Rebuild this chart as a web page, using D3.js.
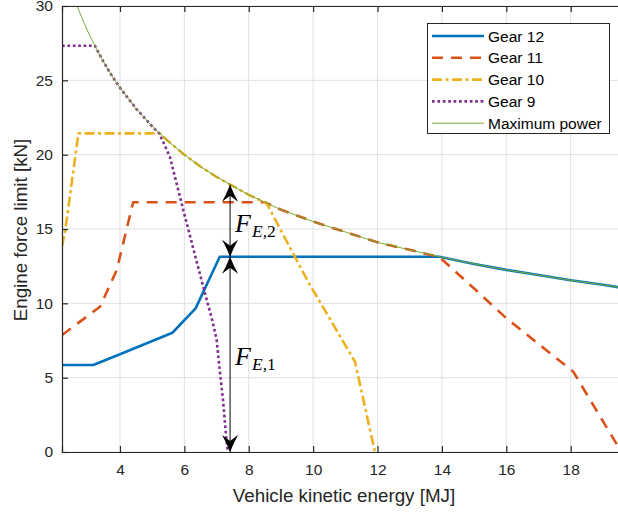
<!DOCTYPE html>
<html>
<head>
<meta charset="utf-8">
<script src="https://cdn.jsdelivr.net/npm/d3@7"></script>
<style>
  html, body { margin: 0; padding: 0; background: #fff; }
  svg { display: block; }
</style>
</head>
<body>
<svg id="chart" width="618" height="513"></svg>
<script>
// ---------- data ----------
const xTicks = [4, 6, 8, 10, 12, 14, 16, 18];
const yTicks = [0, 5, 10, 15, 20, 25, 30];

const gear12E = [2.2, 3.17, 4.0, 5.63, 6.35, 7.1, 13.92, 15, 16, 17, 18, 19, 19.6];
const gear12F = [5.85, 5.85, 6.58, 8.02, 9.66, 13.13, 13.13, 12.65, 12.25, 11.9, 11.55, 11.25, 11.05];

const gear11E = [2.2, 3.38, 3.9, 4.41, 8.5, 9.0, 10, 11, 12, 13, 13.85, 14.05, 15.18, 16.0, 18.08, 19.45];
const gear11F = [7.87, 9.77, 12.24, 16.8, 16.8, 16.3, 15.5, 14.8, 14.1, 13.6, 13.15, 12.86, 10.64, 9.0, 5.4, 0.45];

const gear10E = [2.2, 2.3, 2.71, 5.24, 5.5, 6.0, 6.5, 7.0, 7.5, 8.0, 8.56, 9.0, 9.9, 10.21, 11.3, 11.92];
const gear10F = [13.85, 14.9, 21.43, 21.43, 20.9, 20.0, 19.2, 18.5, 17.9, 17.3, 16.72, 14.9, 11.23, 10.1, 6.07, 0.0];

const gear9E = [2.2, 3.22, 3.5, 3.75, 4.0, 4.5, 5.0, 5.22, 5.55, 6.0, 6.3, 6.6, 6.85, 7.0, 7.1, 7.2, 7.3, 7.35];
const gear9F = [27.33, 27.33, 26.2, 25.3, 24.5, 23.1, 21.9, 21.43, 19.86, 16.0, 13.5, 11.0, 9.0, 7.6, 5.5, 3.5, 1.0, 0.0];

const maxPowE = [2.6, 2.8, 3.0, 3.25, 3.5, 3.75, 4.0, 4.5, 5.0, 5.5, 6.0, 6.5, 7.0, 7.5, 8.0, 8.5, 9.0, 10, 11, 12, 13, 14, 15, 16, 17, 18, 19, 19.6];
const maxPowF = [30.4, 29.3, 28.3, 27.2, 26.2, 25.3, 24.5, 23.1, 21.9, 20.9, 20.0, 19.2, 18.5, 17.9, 17.3, 16.8, 16.3, 15.5, 14.8, 14.1, 13.6, 13.1, 12.65, 12.25, 11.9, 11.55, 11.25, 11.05];

const seriesNames = ["Gear 12", "Gear 11", "Gear 10", "Gear 9", "Maximum power"];

// annotation
const arrowE = 7.42;
const arrow1F = [0, 13.13];
const arrow2F = [13.13, 17.98];

// ---------- layout ----------
const svg = d3.select("#chart");
const pL = 62, pR = 619, pT = 6, pB = 452;
const x = d3.scaleLinear().domain([2.2, 19.5]).range([pL, pR]);
const y = d3.scaleLinear().domain([0, 30]).range([pB, pT]);
const axisColor = "#262626";
const font = "'Liberation Sans', Arial, Helvetica, sans-serif";

// grid
const grid = svg.append("g");
grid.selectAll(".gx").data(xTicks).enter().append("line")
  .attr("x1", d => x(d)).attr("x2", d => x(d)).attr("y1", pT).attr("y2", pB)
  .attr("stroke", "#e0e0e0").attr("stroke-width", 1);
grid.selectAll(".gy").data(yTicks).enter().append("line")
  .attr("x1", pL).attr("x2", pR).attr("y1", d => y(d)).attr("y2", d => y(d))
  .attr("stroke", "#e0e0e0").attr("stroke-width", 1);

// clip
svg.append("clipPath").attr("id", "clip").append("rect")
  .attr("x", pL).attr("y", pT).attr("width", pR - pL).attr("height", pB - pT);

const styles = [
  { color: "#0072BD", width: 2.6, dash: null },
  { color: "#D95319", width: 2.6, dash: "11,8" },
  { color: "#EDB120", width: 2.6, dash: "10,3.5,3,3.5" },
  { color: "#7E2F8E", width: 2.6, dash: "2.7,2.7" },
  { color: "#77AC30", width: 1.0, dash: null }
];
const allE = [gear12E, gear11E, gear10E, gear9E, maxPowE];
const allF = [gear12F, gear11F, gear10F, gear9F, maxPowF];

const line = d3.line().x(d => x(d[0])).y(d => y(d[1]));
const plotG = svg.append("g").attr("clip-path", "url(#clip)");
allE.forEach((E, i) => {
  const pts = E.map((e, k) => [e, allF[i][k]]);
  plotG.append("path").datum(pts)
    .attr("d", line)
    .attr("fill", "none")
    .attr("stroke", styles[i].color)
    .attr("stroke-width", styles[i].width)
    .attr("stroke-dasharray", styles[i].dash)
    .attr("stroke-linejoin", "round");
});

// axes
const xAxisB = d3.axisBottom(x).tickValues(xTicks).tickSize(-6).tickPadding(12).tickFormat(d3.format("d"));
const xAxisT = d3.axisTop(x).tickValues(xTicks).tickSize(-6).tickFormat("");
const yAxisL = d3.axisLeft(y).tickValues(yTicks).tickSize(-6).tickPadding(9).tickFormat(d3.format("d"));
const gxB = svg.append("g").attr("transform", `translate(0,${pB})`).call(xAxisB);
const gxT = svg.append("g").attr("transform", `translate(0,${pT})`).call(xAxisT);
const gyL = svg.append("g").attr("transform", `translate(${pL},0)`).call(yAxisL);
[gxB, gxT, gyL].forEach(g => {
  g.select(".domain").attr("stroke", axisColor).attr("stroke-width", 1.2);
  g.selectAll(".tick line").attr("stroke", axisColor).attr("stroke-width", 1.2);
  g.selectAll(".tick text").attr("fill", axisColor).style("font-family", font).style("font-size", "15.5px");
});

// axis labels
svg.append("text").attr("x", 344).attr("y", 502)
  .attr("text-anchor", "middle").attr("fill", axisColor)
  .style("font-family", font).style("font-size", "18.8px")
  .text("Vehicle kinetic energy [MJ]");
svg.append("text").attr("transform", `translate(27,230) rotate(-90)`)
  .attr("text-anchor", "middle").attr("fill", axisColor)
  .style("font-family", font).style("font-size", "18.8px")
  .text("Engine force limit [kN]");

// annotation arrows
const ax = x(arrowE);
const annG = svg.append("g");
function head(tipY, dir) { // dir = -1 pointing up, +1 pointing down
  const L = 17, W = 8, N = 11;
  const b = tipY - dir * L, n = tipY - dir * N;
  return `M${ax},${tipY} Q${ax - 3.5},${tipY - dir * 9} ${ax - W},${b} L${ax},${n} L${ax + W},${b} Q${ax + 3.5},${tipY - dir * 9} ${ax},${tipY} Z`;
}
[arrow1F, arrow2F].forEach(a => {
  annG.append("line").attr("x1", ax).attr("x2", ax).attr("y1", y(a[0])).attr("y2", y(a[1]))
    .attr("stroke", "#000").attr("stroke-width", 1);
  annG.append("path").attr("d", head(y(a[0]), 1)).attr("fill", "#000");
  annG.append("path").attr("d", head(y(a[1]), -1)).attr("fill", "#000");
});
function label(a, sub) {
  const t = annG.append("text")
    .attr("x", ax + 5).attr("y", y((a[0] + a[1]) / 2) + 11)
    .style("font-family", "'Liberation Serif', 'Times New Roman', serif")
    .attr("fill", "#000");
  t.append("tspan").style("font-style", "italic").style("font-size", "26px").text("F");
  t.append("tspan").attr("dx", 1).attr("dy", 5).style("font-style", "italic").style("font-size", "17.5px").text("E");
  t.append("tspan").style("font-size", "17.5px").text("," + sub);
}
label(arrow2F, "2");
label(arrow1F, "1");

// legend
const lg = svg.append("g");
lg.append("rect").attr("x", 427.5).attr("y", 23.5).attr("width", 182).attr("height", 110)
  .attr("fill", "#fff").attr("stroke", axisColor).attr("stroke-width", 1);
seriesNames.forEach((name, i) => {
  const yy = 36 + i * 21.8;
  lg.append("line").attr("x1", 432).attr("x2", 484).attr("y1", yy).attr("y2", yy)
    .attr("stroke", styles[i].color).attr("stroke-width", styles[i].width)
    .attr("stroke-dasharray", styles[i].dash);
  lg.append("text").attr("x", 488).attr("y", yy + 5.5).attr("fill", "#000")
    .style("font-family", font).style("font-size", "15.5px").text(name);
});
</script>
</body>
</html>
